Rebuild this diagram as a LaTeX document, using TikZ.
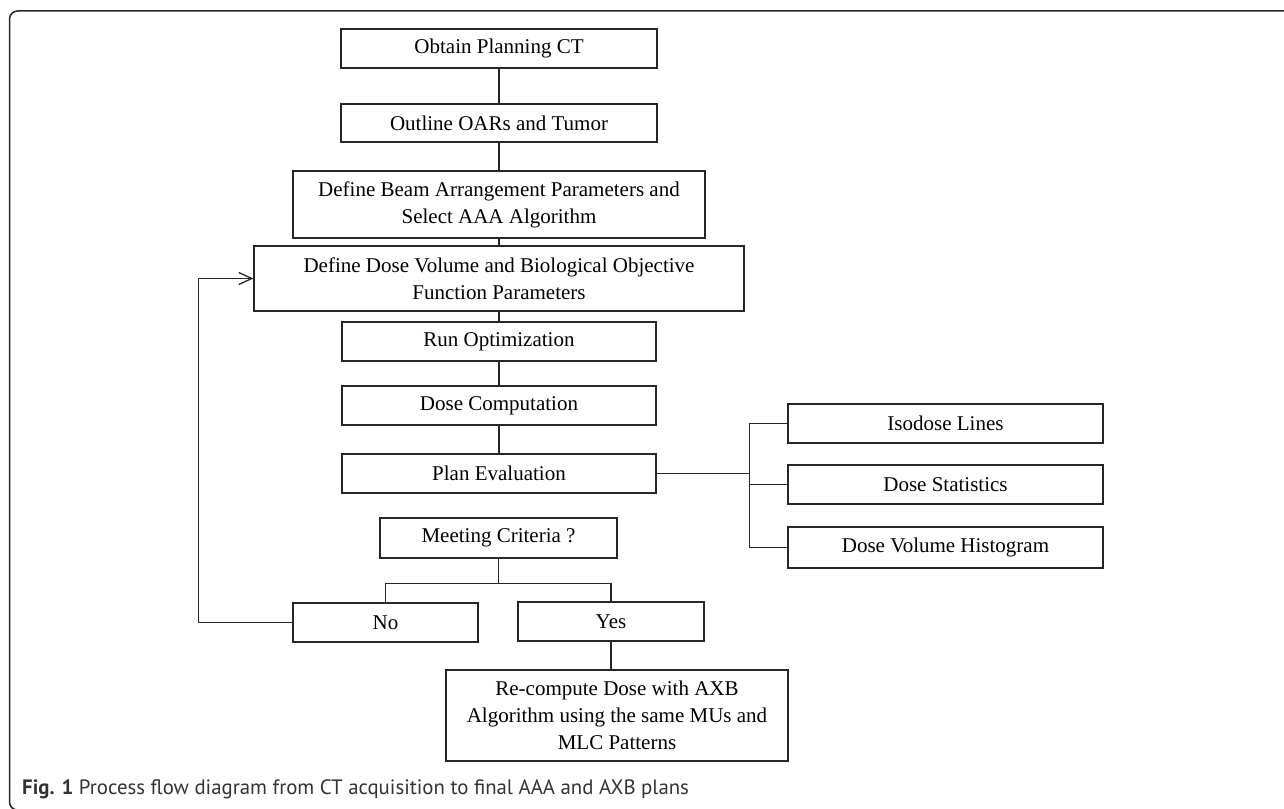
\documentclass[tikz,border=0pt]{standalone}
\usepackage{fontspec}
\setmainfont{Liberation Serif}
\newfontfamily\capfont{PT Sans}
\usetikzlibrary{arrows.meta}
\definecolor{ln}{HTML}{262626}
\definecolor{capc}{HTML}{333333}
\begin{document}
\begin{tikzpicture}[x=1pt,y=-1pt,
  box/.style={draw=ln, line width=1.3pt, rectangle, inner sep=0pt, align=center,
    font=\fontsize{21}{27}\selectfont, text=black},
  conn/.style={draw=ln, line width=1.3pt}]
\useasboundingbox (0,0) rectangle (1284,808);
\begin{scope}
\clip (0,0) rectangle (1284,808);
\draw[line width=1.5pt, draw=ln, rounded corners=8pt] (1300,11) -- (9.5,11) -- (9.5,810) -- (100,810);
\end{scope}
% main column
\node[box, minimum width=316pt, minimum height=39pt] (obtain) at (499,48.5) {Obtain Planning CT};
\node[box, minimum width=316pt, minimum height=38pt] (outline) at (499,123) {Outline OARs and Tumor};
\node[box, minimum width=412pt, minimum height=67pt] (beam) at (499,204.5) {Define Beam Arrangement Parameters and\\Select AAA Algorithm};
\node[box, minimum width=490pt, minimum height=65pt] (dose) at (499,278.5) {Define Dose Volume and Biological Objective\\Function Parameters};
\node[box, minimum width=314pt, minimum height=39pt] (runopt) at (499,341.5) {Run Optimization};
\node[box, minimum width=314pt, minimum height=39pt] (dosecomp) at (499,405.5) {Dose Computation};
\node[box, minimum width=314pt, minimum height=39pt] (planeval) at (499,473.5) {Plan Evaluation};
\node[box, minimum width=237pt, minimum height=40pt] (meeting) at (498.5,538) {Meeting Criteria ?};
\node[box, minimum width=185pt, minimum height=39pt] (no) at (385.5,622.5) {No};
\node[box, minimum width=186pt, minimum height=39pt] (yes) at (611,621.5) {Yes};
\node[box, minimum width=342pt, minimum height=91pt] (recomp) at (617,715.5) {Re-compute Dose with AXB\\Algorithm using the same MUs and\\MLC Patterns};
% evaluation outputs
\node[box, minimum width=315pt, minimum height=39pt] (iso) at (945.5,423.5) {Isodose Lines};
\node[box, minimum width=315pt, minimum height=39pt] (stats) at (945.5,484.5) {Dose Statistics};
\node[box, minimum width=315pt, minimum height=41pt] (dvh) at (945.5,547.5) {Dose Volume Histogram};
% connectors
\draw[conn] (obtain.south) -- (outline.north);
\draw[conn] (outline.south) -- (beam.north);
\draw[conn] (beam.south) -- (dose.north);
\draw[conn] (dose.south) -- (runopt.north);
\draw[conn] (runopt.south) -- (dosecomp.north);
\draw[conn] (dosecomp.south) -- (planeval.north);
\draw[conn] (iso.west) -- ++(-38,0) coordinate (bt) |- (dvh.west);
\draw[conn] (stats.west) -- (stats.west -| bt);
\draw[conn] (planeval.east) -- (planeval.east -| bt);
\draw[conn] (meeting.south) -- ++(0,25) coordinate (mj);
\draw[conn] (no.north) |- (yes.north |- mj) -- (yes.north);
\draw[conn] (yes.south) -- (yes.south |- recomp.north);
\draw[conn, -{Straight Barb[length=13pt,width=12pt,line width=1.3pt]}] (no.west) -- ++(-94,0) |- (dose.west);
% caption
\node[anchor=base west, inner sep=0pt, text=capc, font=\capfont\fontsize{20.8}{24}\selectfont] (cap) at (22,794)
  {\textbf{Fig. 1} Process flow diagram from CT acquisition to final AAA and AXB plans};
\end{tikzpicture}
\end{document}
